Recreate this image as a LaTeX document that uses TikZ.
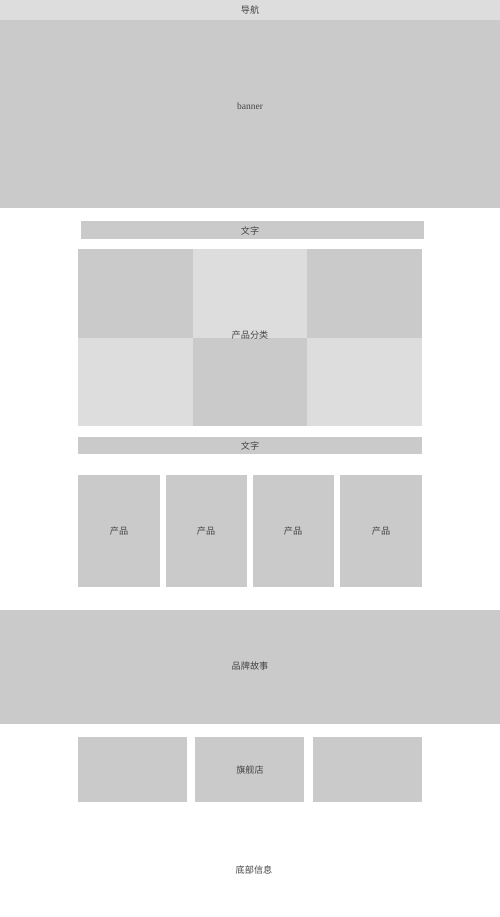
\documentclass[tikz,border=0pt]{standalone}
\usepackage{fontspec}
\newfontfamily\cjk{Noto Sans CJK SC}
\newfontfamily\serif{Liberation Serif}
\definecolor{dark}{HTML}{CACACA}
\definecolor{lite}{HTML}{DDDDDD}
\definecolor{ink}{HTML}{444444}
\begin{document}
\begin{tikzpicture}[x=0.02cm,y=-0.02cm,
  lbl/.style={text=ink,font=\cjk\fontsize{5.2}{6}\selectfont,inner sep=0pt},
  latin/.style={text=ink,font=\serif\fontsize{5.4}{6}\selectfont,inner sep=0pt}]
\useasboundingbox (0,0) rectangle (500,917);
\fill[white] (0,0) rectangle (500,917);
\fill[lite] (0,0) rectangle (500,20);
\fill[dark] (0,20) rectangle (500,208);
\fill[dark] (81,221) rectangle (424,239);
\fill[dark] (78,249) rectangle (193,338);
\fill[lite] (193,249) rectangle (307,338);
\fill[dark] (307,249) rectangle (422,338);
\fill[lite] (78,338) rectangle (193,426);
\fill[dark] (193,338) rectangle (307,426);
\fill[lite] (307,338) rectangle (422,426);
\fill[dark] (78,437) rectangle (422,454);
\fill[dark] (78,475) rectangle (160,587);
\fill[dark] (166,475) rectangle (247,587);
\fill[dark] (253,475) rectangle (334,587);
\fill[dark] (340,475) rectangle (422,587);
\fill[dark] (0,610) rectangle (500,724);
\fill[dark] (78,737) rectangle (187,802);
\fill[dark] (195,737) rectangle (304,802);
\fill[dark] (313,737) rectangle (422,802);
\node[lbl] (nav) at (250,10) {导航};
\node[latin] (banner) at (250,106) {banner};
\node[lbl] (text1) at (250,231) {文字};
\node[lbl] (cat) at (250,335) {产品分类};
\node[lbl] (text2) at (250,446) {文字};
\node[lbl] (prod1) at (119,531) {产品};
\node[lbl] (prod2) at (206,531) {产品};
\node[lbl] (prod3) at (293,531) {产品};
\node[lbl] (prod4) at (381,531) {产品};
\node[lbl] (story) at (250,666) {品牌故事};
\node[lbl] (store) at (250,770) {旗舰店};
\node[lbl] (foot) at (254,870) {底部信息};
\end{tikzpicture}
\end{document}
